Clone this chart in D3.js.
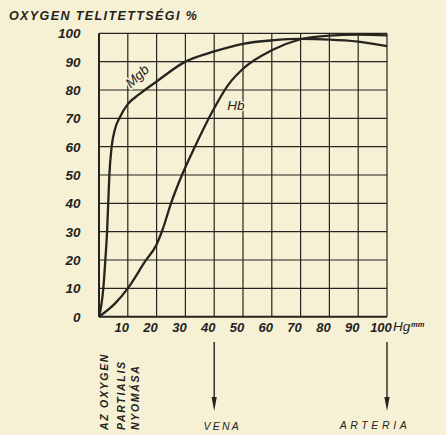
<!DOCTYPE html>
<html>
<head>
<meta charset="utf-8">
<script src="https://cdn.jsdelivr.net/npm/d3@7"></script>
<style>
  html, body { margin: 0; padding: 0; background: #f6f1d4; }
  svg { display: block; }
  text { font-family: "Liberation Sans", Arial, sans-serif; font-style: italic; fill: #24221e; }
</style>
</head>
<body>
<script>
// ---- data ----
const xTicks = [10, 20, 30, 40, 50, 60, 70, 80, 90, 100];
const yTicks = [0, 10, 20, 30, 40, 50, 60, 70, 80, 90, 100];
const mgbP = [0, 0.8, 1.5, 2.2, 2.8, 3.2, 3.6, 4.4, 5.5, 7.3, 10, 14, 20, 30, 40, 50, 60, 70, 80, 90, 100];
const mgbS = [0, 4, 10, 20, 30, 40, 50, 60, 66, 70.5, 75, 78.5, 83, 90, 93.6, 96.3, 97.5, 98, 97.8, 97.1, 95.5];
const hbP = [0, 5.6, 10, 16, 20, 22, 25, 28.8, 33.3, 39, 45, 50, 60, 70, 80, 90, 100];
const hbS = [0, 4.7, 10, 19.5, 25.5, 30.5, 40, 50, 60, 71.7, 82, 87.5, 94, 97.9, 99.2, 99.5, 99.3];
const titleText = "OXYGEN TELITETTSÉGI %";
const sideLines = ["AZ OXYGEN", "PARTIALIS", "NYOMÁSA"];
const arrowAt = [40, 100];
const arrowLabels = ["VENA", "ARTERIA"];

// ---- layout ----
const W = 446, H = 435;
const ink = "#26241f";
const bg = "#f6f1d4";
const x = d3.scaleLinear().domain([0, 100]).range([99, 387]);
const y = d3.scaleLinear().domain([0, 100]).range([316.7, 33.3]);

const svg = d3.select("body").append("svg").attr("width", W).attr("height", H);

// grid
svg.append("g").selectAll("line").data(xTicks).join("line")
  .attr("x1", d => x(d)).attr("x2", d => x(d))
  .attr("y1", y(0)).attr("y2", y(100))
  .attr("stroke", ink).attr("stroke-width", 1.2);
svg.append("g").selectAll("line").data(yTicks.filter(d => d > 0)).join("line")
  .attr("x1", x(0)).attr("x2", x(100))
  .attr("y1", d => y(d)).attr("y2", d => y(d))
  .attr("stroke", ink).attr("stroke-width", 1.2);

// axes (thicker)
svg.append("line").attr("x1", x(0)).attr("x2", x(0)).attr("y1", y(0)).attr("y2", y(100))
  .attr("stroke", ink).attr("stroke-width", 2);
svg.append("line").attr("x1", x(0)).attr("x2", x(100)).attr("y1", y(0)).attr("y2", y(0))
  .attr("stroke", ink).attr("stroke-width", 2);

// y tick labels
svg.append("g").selectAll("text").data(yTicks).join("text")
  .attr("x", 80.5).attr("y", d => y(d)).attr("dy", "0.36em")
  .attr("text-anchor", "end")
  .attr("font-size", 13.5).attr("font-weight", "bold")
  .text(d => d);

// x tick labels
svg.append("g").selectAll("text").data(xTicks).join("text")
  .attr("x", d => x(d) - 6).attr("y", 331.5)
  .attr("text-anchor", "middle")
  .attr("font-size", 13).attr("font-weight", "bold")
  .text(d => d);
svg.append("text").attr("x", 393).attr("y", 331).attr("font-size", 13.5).text("Hg");
svg.append("text").attr("x", 411).attr("y", 327).attr("font-size", 7.5).attr("font-weight", "bold").text("mm");

// title
svg.append("text").attr("x", 9).attr("y", 19.5)
  .attr("font-size", 12.5).attr("font-weight", "bold").attr("letter-spacing", 1.4)
  .text(titleText);

// curves
const line = d3.line().x(d => x(d[0])).y(d => y(d[1])).curve(d3.curveMonotoneX);
svg.append("path").datum(mgbP.map((p, i) => [p, mgbS[i]]))
  .attr("d", line).attr("fill", "none").attr("stroke", ink).attr("stroke-width", 2.3);
svg.append("path").datum(hbP.map((p, i) => [p, hbS[i]]))
  .attr("d", line).attr("fill", "none").attr("stroke", ink).attr("stroke-width", 2.3);

// curve labels
svg.append("text")
  .attr("transform", `translate(${x(11)},${y(80.5)}) rotate(-43)`)
  .attr("font-size", 13.5).attr("stroke", bg).attr("stroke-width", 3)
  .attr("paint-order", "stroke").text("Mgb");
svg.append("text")
  .attr("x", x(44.5)).attr("y", y(73))
  .attr("font-size", 13.5).attr("stroke", bg).attr("stroke-width", 3)
  .attr("paint-order", "stroke").text("Hb");

// vertical side labels
const sideX = [108, 125, 138.5];
sideLines.forEach((t, i) => {
  svg.append("text")
    .attr("transform", `translate(${sideX[i]},430) rotate(-90)`)
    .attr("font-size", 10.5).attr("font-weight", "bold").attr("letter-spacing", 1.7)
    .text(t);
});

// arrows
arrowAt.forEach(p => {
  svg.append("line").attr("x1", x(p)).attr("x2", x(p)).attr("y1", 342).attr("y2", 405)
    .attr("stroke", ink).attr("stroke-width", 1.4);
  svg.append("path")
    .attr("d", `M${x(p) - 2.6},397 L${x(p)},411 L${x(p) + 2.6},397 Z`)
    .attr("fill", ink);
});
svg.append("text").attr("x", x(40) + 8).attr("y", 429.5).attr("text-anchor", "middle")
  .attr("font-size", 10.5).attr("letter-spacing", 2.2).text(arrowLabels[0]);
svg.append("text").attr("x", x(100) - 12).attr("y", 429)
  .attr("text-anchor", "middle")
  .attr("font-size", 10.5).attr("letter-spacing", 3.6).text(arrowLabels[1]);
</script>
</body>
</html>
